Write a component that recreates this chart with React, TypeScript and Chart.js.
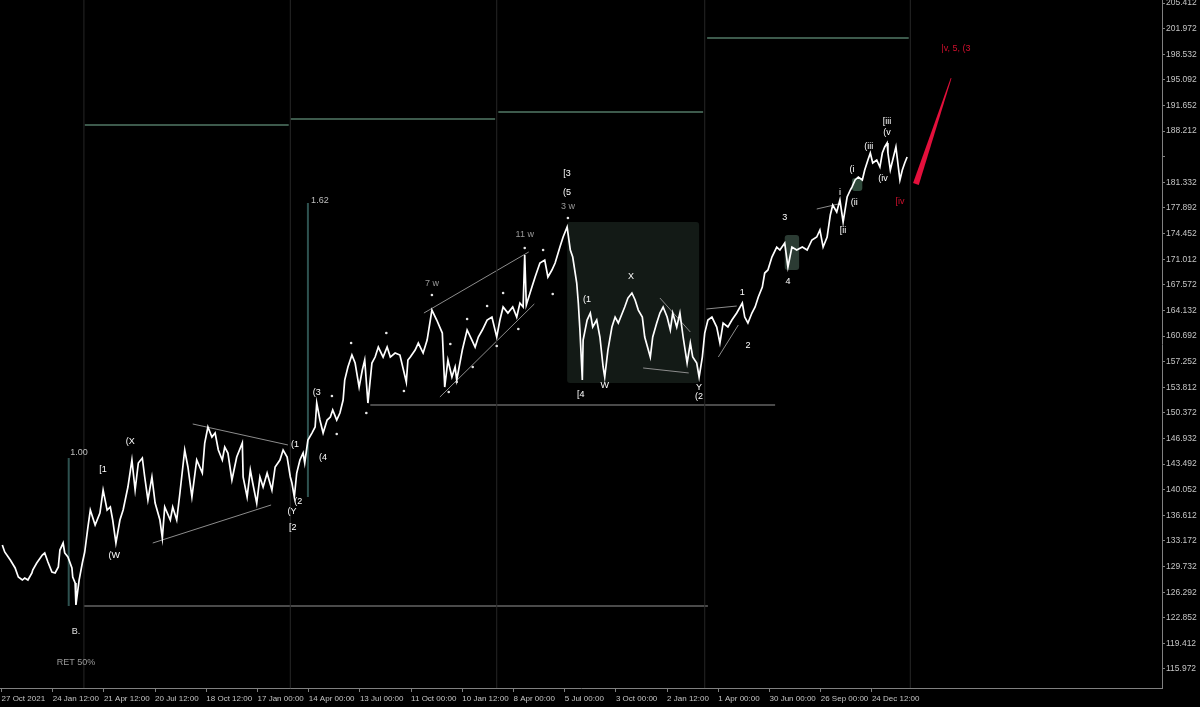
import React, { useEffect, useRef } from 'react';
import { Chart, registerables } from 'chart.js';

Chart.register(...registerables);

// ---------- data ----------
const xTickLabels = [
  '27 Oct 2021', '24 Jan 12:00', '21 Apr 12:00', '20 Jul 12:00', '18 Oct 12:00', '17 Jan 00:00',
  '14 Apr 00:00', '13 Jul 00:00', '11 Oct 00:00', '10 Jan 12:00', '8 Apr 00:00', '5 Jul 00:00',
  '3 Oct 00:00', '2 Jan 12:00', '1 Apr 00:00', '30 Jun 00:00', '26 Sep 00:00', '24 Dec 12:00',
];
const barsPerLabel = 64;
const xMin = -1.9;
const xMax = 1450.6;

const yTickStart = 115.972;
const yTickStep = 3.44;
const yTickCount = 27;
const yHiddenTick = 20;
const yMin = 113.42;
const yMax = 205.82;

// [bar index, price]
const priceSeries: [number, number][] = [
  [1, 132.63], [4, 131.69], [11, 130.61], [17, 129.54], [21, 128.33], [26, 127.92], [29, 128.19], [33, 127.92],
  [38, 128.87], [39, 129.27], [44, 130.21], [51, 131.28], [54, 131.55], [58, 130.34], [63, 129.0], [67, 128.87],
  [71, 129.67], [73, 131.95], [77, 132.89], [79, 131.55], [83, 131.01], [88, 129.53], [89, 128.33], [92, 127.52],
  [93, 124.57], [97, 127.92], [101, 130.21], [104, 131.68], [108, 135.04], [111, 137.32], [117, 135.31], [123, 136.92],
  [127, 140.01], [132, 137.32], [136, 137.73], [139, 135.98], [143, 132.89], [148, 135.98], [152, 137.32], [158, 140.41],
  [163, 144.04], [167, 140.01], [171, 143.64], [176, 144.31], [179, 141.76], [183, 138.67], [188, 141.76], [192, 138.26],
  [198, 135.98], [201, 133.56], [204, 137.73], [211, 135.98], [214, 137.73], [219, 135.98], [223, 139.61], [229, 145.38],
  [233, 143.1], [238, 139.07], [244, 144.04], [251, 142.29], [254, 146.32], [258, 148.47], [263, 147.13], [267, 147.66],
  [271, 145.38], [276, 144.04], [279, 145.78], [283, 144.98], [288, 141.35], [294, 144.44], [301, 146.32], [302, 141.76],
  [307, 139.07], [311, 142.7], [314, 140.95], [319, 138.26], [323, 141.76], [327, 140.41], [332, 142.29], [338, 140.01],
  [342, 143.1], [348, 144.04], [352, 145.38], [357, 144.44], [361, 141.76], [363, 140.95], [366, 139.07], [369, 142.29],
  [373, 144.04], [377, 144.98], [379, 143.64], [383, 146.72], [388, 147.66], [392, 148.47], [394, 151.69], [398, 149.41],
  [402, 147.66], [407, 149.41], [411, 149.81], [414, 150.75], [419, 149.41], [423, 150.35], [427, 152.1], [429, 154.78],
  [433, 156.53], [438, 158.14], [442, 157.07], [447, 153.84], [451, 156.13], [454, 157.47], [458, 151.69], [463, 157.07],
  [467, 157.87], [471, 159.21], [477, 157.87], [482, 159.21], [486, 157.87], [492, 158.41], [498, 158.14], [506, 154.51],
  [508, 157.47], [511, 157.87], [517, 158.81], [521, 159.75], [527, 158.41], [532, 160.15], [538, 164.18], [544, 162.84],
  [551, 161.09], [554, 153.84], [558, 157.47], [563, 155.19], [567, 156.53], [569, 154.78], [576, 158.81], [582, 161.5],
  [588, 160.15], [592, 159.21], [596, 160.56], [601, 161.5], [607, 162.84], [613, 163.24], [619, 160.56], [623, 162.84],
  [627, 164.59], [633, 163.78], [639, 164.59], [644, 163.24], [648, 165.12], [652, 164.59], [654, 171.57], [656, 164.86],
  [663, 167.27], [667, 168.62], [673, 170.5], [679, 170.9], [683, 168.62], [688, 169.56], [692, 170.5], [698, 172.64],
  [702, 173.99], [707, 175.33], [711, 172.24], [714, 171.3], [719, 167.81], [721, 165.12], [723, 161.5], [726, 154.78],
  [727, 160.15], [732, 162.84], [736, 163.78], [739, 161.9], [744, 162.84], [748, 160.56], [752, 156.53], [754, 155.19],
  [758, 158.81], [763, 161.9], [767, 163.24], [771, 162.44], [776, 163.78], [779, 164.59], [783, 165.79], [788, 166.47],
  [792, 165.53], [796, 164.18], [801, 163.24], [804, 160.56], [811, 157.87], [814, 160.56], [819, 162.44], [823, 163.78],
  [827, 164.59], [832, 163.24], [836, 161.5], [839, 163.78], [844, 161.9], [848, 163.78], [852, 160.56], [857, 157.07],
  [861, 159.75], [864, 157.87], [869, 157.07], [872, 155.19], [876, 157.87], [879, 161.09], [883, 162.84], [888, 163.24],
  [894, 161.9], [898, 159.75], [902, 162.44], [908, 161.9], [913, 162.84], [919, 163.78], [926, 165.12], [929, 163.24],
  [933, 162.44], [938, 163.78], [942, 164.59], [946, 165.93], [951, 167.27], [954, 169.15], [958, 169.56], [963, 171.3],
  [969, 172.64], [973, 172.24], [979, 173.18], [983, 169.96], [988, 172.64], [994, 172.24], [1001, 172.64], [1007, 172.24],
  [1013, 173.59], [1019, 173.99], [1023, 174.93], [1027, 172.64], [1032, 173.99], [1036, 176.95], [1039, 178.29], [1044, 177.35],
  [1048, 178.96], [1052, 176.0], [1057, 179.36], [1061, 180.3], [1063, 180.7], [1067, 181.65], [1071, 182.05], [1076, 181.65],
  [1079, 182.99], [1083, 184.33], [1086, 185.27], [1089, 183.93], [1094, 184.33], [1098, 183.39], [1101, 185.27], [1104, 186.08],
  [1107, 186.62], [1108, 185.27], [1111, 182.99], [1114, 184.33], [1118, 186.08], [1121, 183.39], [1123, 181.65], [1126, 182.99],
  [1129, 183.93], [1132, 184.73],
];

// swing markers (small dots)
const swingDots: [number, number][] = [
  [413, 152.64], [419, 147.53], [437, 159.75], [456, 150.35], [481, 161.09], [503, 153.31], [538, 166.2],
  [559, 153.17], [561, 159.62], [569, 154.51], [582, 162.98], [589, 156.53], [607, 164.72], [619, 159.35],
  [627, 166.47], [646, 161.63], [654, 172.51], [677, 172.24], [689, 166.34], [708, 176.54],
];

const periodSeparators = [103, 361, 619, 879, 1136];
// [fromBar, toBar, price]
const periodHighs: [number, number, number][] = [
  [104, 359, 189.03], [361, 617, 189.84], [621, 877, 190.78], [882, 1134, 200.72],
];
const supportLines: [number, number, number][] = [
  [103, 883, 124.43], [461, 967, 151.43],
];
// [bar, fromPrice, toPrice]
const fibLines: [number, number, number][] = [
  [84, 124.43, 144.31], [383, 139.07, 178.56],
];
// [bar0, price0, bar1, price1]
const trendLines: [number, number, number, number][] = [
  [189, 132.89, 337, 138.0], [239, 148.88, 358, 146.06],
  [528, 163.78, 659, 171.98], [548, 152.5, 666, 165.0],
  [823, 165.8, 861, 161.23], [802, 156.4, 859, 155.73],
  [881, 164.32, 919, 164.72], [896, 157.87, 921, 162.17],
  [1019, 177.75, 1046, 178.42],
];
// [bar0, bar1, priceLow, priceHigh, color]
const zones: [number, number, number, number, string][] = [
  [707, 872, 154.38, 176.0, '#131a16'],
  [979, 997, 169.56, 174.26, '#2b3b33'],
  [1063, 1076, 180.17, 181.91, '#2f4a3b'],
];
// [bar0, price0, bar1, price1]
const projectionArrow: [number, number, number, number] = [1143, 181.11, 1187, 195.34];

// [text, bar, price, color, align]
const waveLabels: [string, number, number, string, string][] = [
  ['1.00', 86, 144.98, '#bfbfbf', 'left'],
  ['1.62', 387, 178.83, '#bfbfbf', 'left'],
  ['B.', 93, 120.94, '#e0e0e0', 'center'],
  ['RET 50%', 93, 116.78, '#9a9a9a', 'center'],
  ['[1', 127, 142.7, '#ffffff', 'center'],
  ['(X', 161, 146.59, '#ffffff', 'center'],
  ['(W', 141, 131.28, '#ffffff', 'center'],
  ['(1', 367, 146.06, '#ffffff', 'center'],
  ['(2', 371, 138.4, '#ffffff', 'center'],
  ['(Y', 363, 137.06, '#ffffff', 'center'],
  ['[2', 364, 134.91, '#ffffff', 'center'],
  ['(3', 394, 153.04, '#ffffff', 'center'],
  ['(4', 402, 144.44, '#ffffff', 'center'],
  ['7 w', 538, 167.81, '#9a9a9a', 'center'],
  ['11 w', 654, 174.39, '#9a9a9a', 'center'],
  ['3 w', 708, 178.02, '#9a9a9a', 'center'],
  ['(5', 707, 180.03, '#ffffff', 'center'],
  ['[3', 707, 182.45, '#ffffff', 'center'],
  ['[4', 724, 152.77, '#ffffff', 'center'],
  ['(1', 732, 165.66, '#ffffff', 'center'],
  ['W', 754, 154.11, '#ffffff', 'center'],
  ['X', 787, 168.75, '#ffffff', 'center'],
  ['Y', 872, 153.84, '#ffffff', 'center'],
  ['(2', 872, 152.5, '#ffffff', 'center'],
  ['1', 926, 166.47, '#ffffff', 'center'],
  ['2', 933, 159.35, '#ffffff', 'center'],
  ['3', 979, 176.54, '#ffffff', 'center'],
  ['4', 983, 167.95, '#ffffff', 'center'],
  ['i', 1048, 179.9, '#ffffff', 'center'],
  ['[ii', 1052, 174.8, '#ffffff', 'center'],
  ['(i', 1063, 182.99, '#ffffff', 'center'],
  ['(ii', 1066, 178.56, '#ffffff', 'center'],
  ['(iii', 1084, 186.08, '#ffffff', 'center'],
  ['(iv', 1102, 181.91, '#ffffff', 'center'],
  ['(v', 1107, 187.96, '#ffffff', 'center'],
  ['[iii', 1107, 189.44, '#ffffff', 'center'],
  ['[iv', 1123, 178.69, '#d0102e', 'center'],
  ['|v, 5, (3', 1193, 199.24, '#d0102e', 'center'],
];

// ---------- chart ----------
const seg = (x0: number, y0: number, x1: number, y1: number) => [{ x: x0, y: y0 }, { x: x1, y: y1 }];

export default function App() {
  const canvasRef = useRef<HTMLCanvasElement | null>(null);

  useEffect(() => {
    document.body.style.margin = '0';
    document.body.style.background = '#000';
    const canvas = canvasRef.current;
    if (!canvas) return;

    const lineDs = (data: any[], color: string, width: number) => ({
      type: 'line' as const,
      data,
      borderColor: color,
      borderWidth: width,
      pointRadius: 0,
      pointHoverRadius: 0,
      fill: false,
      tension: 0,
      order: 5,
    });

    const datasets: any[] = [];
    periodSeparators.forEach((b) => datasets.push(lineDs(seg(b, yMin, b, yMax), '#262626', 1)));
    periodHighs.forEach(([a, b, p]) => datasets.push(lineDs(seg(a, p, b, p), '#3d5a4c', 2)));
    supportLines.forEach(([a, b, p]) => datasets.push(lineDs(seg(a, p, b, p), '#4a4a4a', 2)));
    fibLines.forEach(([b, p0, p1]) => datasets.push(lineDs(seg(b, p0, b, p1), '#2e5250', 2)));
    trendLines.forEach(([a, p0, b, p1]) => datasets.push(lineDs(seg(a, p0, b, p1), '#8c8c8c', 1)));
    datasets.push({
      type: 'line',
      data: priceSeries.map(([x, y]) => ({ x, y })),
      borderColor: '#ffffff',
      borderWidth: 1.7,
      pointRadius: 0,
      pointHoverRadius: 0,
      fill: false,
      tension: 0,
      order: 1,
    });
    datasets.push({
      type: 'line',
      data: swingDots.map(([x, y]) => ({ x, y })),
      showLine: false,
      pointRadius: 1.3,
      pointHoverRadius: 1.3,
      pointBackgroundColor: '#e6e6e6',
      pointBorderWidth: 0,
      order: 0,
    });

    const overlay = {
      id: 'overlay',
      beforeDraw(chart: any) {
        const c = chart.ctx;
        c.save();
        c.fillStyle = '#000';
        c.fillRect(0, 0, chart.width, chart.height);
        c.restore();
      },
      beforeDatasetsDraw(chart: any) {
        const c = chart.ctx;
        const xs = chart.scales.x;
        const ys = chart.scales.y;
        c.save();
        zones.forEach(([b0, b1, p0, p1, col]) => {
          const x0 = xs.getPixelForValue(b0);
          const x1 = xs.getPixelForValue(b1);
          const y0 = ys.getPixelForValue(p1);
          const y1 = ys.getPixelForValue(p0);
          c.fillStyle = col;
          c.beginPath();
          if (c.roundRect) c.roundRect(x0, y0, x1 - x0, y1 - y0, 3);
          else c.rect(x0, y0, x1 - x0, y1 - y0);
          c.fill();
        });
        c.restore();
      },
      afterDatasetsDraw(chart: any) {
        const c = chart.ctx;
        const xs = chart.scales.x;
        const ys = chart.scales.y;
        c.save();
        // projection arrow
        const [ab0, ap0, ab1, ap1] = projectionArrow;
        const bx = xs.getPixelForValue(ab0);
        const by = ys.getPixelForValue(ap0);
        const tx = xs.getPixelForValue(ab1);
        const ty = ys.getPixelForValue(ap1);
        const dx = tx - bx;
        const dy = ty - by;
        const len = Math.hypot(dx, dy);
        const px = -dy / len;
        const py = dx / len;
        const hw = 3;
        c.fillStyle = '#e4103c';
        c.beginPath();
        c.moveTo(bx + px * hw, by + py * hw);
        c.lineTo(tx + px * 0.4, ty + py * 0.4);
        c.lineTo(tx - px * 0.4, ty - py * 0.4);
        c.lineTo(bx - px * hw, by - py * hw);
        c.closePath();
        c.fill();
        // labels
        c.font = '9px "Liberation Sans", "DejaVu Sans", sans-serif';
        c.textBaseline = 'middle';
        waveLabels.forEach(([t, b, p, col, al]) => {
          c.fillStyle = col;
          c.textAlign = al as CanvasTextAlign;
          c.fillText(t, xs.getPixelForValue(b), ys.getPixelForValue(p));
        });
        c.restore();
      },
    };

    const chart = new Chart(canvas, {
      type: 'line',
      data: { datasets },
      options: {
        animation: false,
        responsive: false,
        maintainAspectRatio: false,
        layout: { padding: 0, autoPadding: false } as any,
        parsing: false as any,
        plugins: { legend: { display: false }, tooltip: { enabled: false } },
        scales: {
          x: {
            type: 'linear',
            min: xMin,
            max: xMax,
            position: 'bottom',
            afterBuildTicks: (s: any) => {
              s.ticks = xTickLabels.map((_, i) => ({ value: i * barsPerLabel }));
            },
            afterFit: (s: any) => {
              s.height = 19;
              s.paddingLeft = 0;
              s.paddingRight = 0;
            },
            ticks: {
              autoSkip: false,
              maxRotation: 0,
              minRotation: 0,
              align: 'start',
              padding: 2,
              color: '#c4c4c4',
              font: { family: '"Liberation Sans", sans-serif', size: 8 },
              callback: (_v: any, i: number) => xTickLabels[i],
            },
            grid: { display: true, drawOnChartArea: false, drawTicks: true, tickLength: 4, color: '#808080' },
            border: { display: true, color: '#808080', width: 1 },
          },
          y: {
            type: 'linear',
            position: 'right',
            min: yMin,
            max: yMax,
            afterBuildTicks: (s: any) => {
              s.ticks = Array.from({ length: yTickCount }, (_, i) => ({ value: yTickStart + i * yTickStep }));
            },
            afterFit: (s: any) => {
              s.width = 38;
              s.paddingTop = 0;
              s.paddingBottom = 0;
            },
            ticks: {
              autoSkip: false,
              padding: 1,
              color: '#c4c4c4',
              font: { family: '"Liberation Sans", sans-serif', size: 8.5 },
              callback: (v: any, i: number) => (i === yHiddenTick ? '' : Number(v).toFixed(3)),
            },
            grid: { display: true, drawOnChartArea: false, drawTicks: true, tickLength: 3, color: '#808080' },
            border: { display: true, color: '#808080', width: 1 },
          },
        },
      },
      plugins: [overlay],
    });

    return () => chart.destroy();
  }, []);

  return (
    <div style={{ width: 1200, height: 707, background: '#000', overflow: 'hidden' }}>
      <canvas ref={canvasRef} width={1200} height={707} style={{ display: 'block', width: 1200, height: 707 }} />
    </div>
  );
}
